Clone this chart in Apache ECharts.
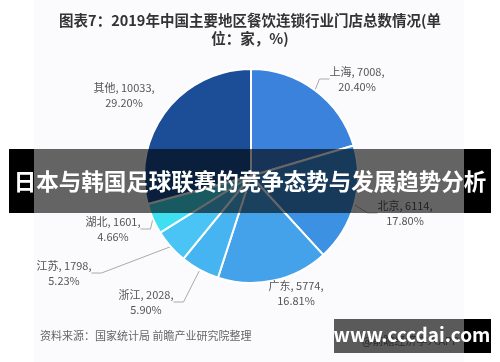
<!DOCTYPE html>
<html><head><meta charset="utf-8">
<script src="https://cdn.jsdelivr.net/npm/echarts@6/dist/echarts.min.js"></script>
<style>html,body{margin:0;padding:0;background:#fff}#c{width:500px;height:362px}</style>
</head><body><div id="c"></div>
<script>
const regions = ['上海','北京','广东','浙江','江苏','湖北','其他'];
const stores = [7008, 6114, 5774, 2028, 1798, 1601, 10033];
const shares = ['20.40%','17.80%','16.81%','5.90%','5.23%','4.66%','29.20%'];
const colors = ['#3b82dc','#3d91e2','#43a2ea','#46b4f0','#49c4f4','#3fdff2','#1b4e96'];
const titleText = '图表7：2019年中国主要地区餐饮连锁行业门店总数情况(单\n位：家，%)';
const sourceText = '资料来源：国家统计局 前瞻产业研究院整理';
const bannerText = '日本与韩国足球联赛的竞争态势与发展趋势分析';
const siteText = 'www.cccdai.com';

// label anchor placement (layout only)
const labelPos = [[357,64],[405,198],[296,278],[146,287],[64,258],[113,214],[124,80]];
const hideLine = [false,false,true,false,false,false,true];

const chart = echarts.init(document.getElementById('c'), null, {renderer:'canvas'});
const FONT = '"Noto Sans CJK SC","Noto Sans",sans-serif';
chart.setOption({
  animation:false,
  backgroundColor:'#ffffff',
  title:{text:titleText,left:'center',top:6,textStyle:{fontFamily:FONT,fontSize:14.5,fontWeight:'bold',color:'#333',lineHeight:18}},
  series:[{
    type:'pie',
    center:[251,176],
    radius:[0,107],
    startAngle:90,
    clockwise:true,
    z:2,
    itemStyle:{borderColor:'#fff',borderWidth:2},
    label:{show:true,fontFamily:FONT,fontSize:11,color:'#555',lineHeight:15,
      formatter:p=>p.name+', '+p.value+',\n'+shares[p.dataIndex]},
    labelLine:{show:true,length:12,length2:10,lineStyle:{color:'#aaa',width:1}},
    labelLayout:p=>({x:labelPos[p.dataIndex][0],y:labelPos[p.dataIndex][1],align:'center',verticalAlign:'top'}),
    data:regions.map((r,i)=>({name:r,value:stores[i],itemStyle:{color:colors[i]},
      labelLine:{show:!hideLine[i]}}))
  }],
  graphic:[
    {type:'rect',z:0,shape:{x:34,y:0,width:430,height:362},style:{fill:'#fbfbfd'}},
    {type:'text',z:10,left:40,top:330,style:{text:sourceText,font:'11px '+FONT,fill:'#666'}},
    {type:'rect',z:20,shape:{x:9,y:149,width:25,height:64},style:{fill:'#000'}},
    {type:'rect',z:20,shape:{x:34,y:149,width:430,height:64},style:{fill:'rgba(0,0,0,0.6)'}},
    {type:'rect',z:20,shape:{x:464,y:149,width:27,height:64},style:{fill:'#000'}},
    {type:'text',z:21,x:250,y:181,style:{text:bannerText,font:'bold 22.5px '+FONT,fill:'#fff',align:'center',verticalAlign:'middle'}},
    {type:'rect',z:20,shape:{x:334,y:319,width:130,height:34},style:{fill:'#5a5a5a'}},
    {type:'text',z:21,x:362,y:341,style:{text:'@前瞻经济学人APP',font:'11px '+FONT,fill:'#2a2a2a',verticalAlign:'middle'}},
    {type:'rect',z:22,shape:{x:464,y:319,width:27,height:34},style:{fill:'#000'}},
    {type:'text',z:23,x:412,y:335,style:{text:siteText,font:'bold 19px '+FONT,fill:'#fff',align:'center',verticalAlign:'middle'}}
  ]
});
</script></body></html>
